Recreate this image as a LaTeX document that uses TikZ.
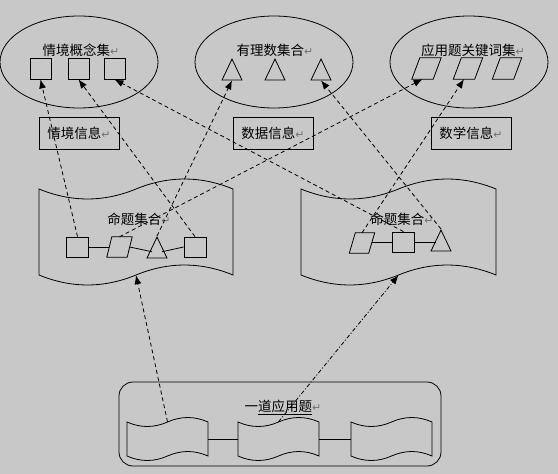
\documentclass[tikz,border=0pt]{standalone}
\usepackage{fontspec}
\newfontfamily\cjk{Noto Sans CJK SC}
\newfontfamily\dejavu{DejaVu Sans}
\usetikzlibrary{shapes.geometric,arrows.meta}
\definecolor{bggray}{RGB}{200,200,200}
\definecolor{retgray}{RGB}{115,115,115}
\newcommand\pmark{{\color{retgray}\dejavu\fontsize{11}{11}\selectfont ↵}}
\newcommand\tapepath[5]{%
  \draw[outl] (#1,#2) .. controls ({#1+#3/6},{#2+1.33*#5}) and ({#1+#3/3},{#2+1.33*#5}) .. ({#1+#3/2},#2)
    .. controls ({#1+2*#3/3},{#2-1.33*#5}) and ({#1+5*#3/6},{#2-1.33*#5}) .. ({#1+#3},#2)
    -- ({#1+#3},{#2+#4})
    .. controls ({#1+5*#3/6},{#2+#4-1.33*#5}) and ({#1+2*#3/3},{#2+#4-1.33*#5}) .. ({#1+#3/2},{#2+#4})
    .. controls ({#1+#3/3},{#2+#4+1.33*#5}) and ({#1+#3/6},{#2+#4+1.33*#5}) .. (#1,{#2+#4}) -- cycle;}
\newcommand\paraoutline[2]{%
  \draw[outl] (#1.south west) -- ([xshift=#2]#1.north west) -- (#1.north east) -- ([xshift=-#2]#1.south east) -- cycle;}
\begin{document}
\begin{tikzpicture}[x=1pt,y=-1pt,
  outl/.style={draw=black,line width=0.8pt},
  txt/.style={font=\cjk\fontsize{13.5}{14}\selectfont,inner sep=0pt},
  oval/.style={outl,ellipse,minimum width=158pt,minimum height=92pt},
  sq/.style={outl,minimum width=21pt,minimum height=21pt,inner sep=0pt},
  sqs/.style={outl,minimum width=22pt,minimum height=20pt,inner sep=0pt},
  tri/.style={outl,isosceles triangle,shape border rotate=90,isosceles triangle stretches,
     minimum width=20pt,minimum height=21pt,inner sep=0pt,anchor=apex},
  pbox/.style={minimum width=29pt,minimum height=21pt,inner sep=0pt},
  pboxs/.style={minimum width=25pt,minimum height=20pt,inner sep=0pt},
  infobox/.style={outl,minimum width=80pt,minimum height=32pt,inner sep=0pt,font=\cjk\fontsize{13.5}{14}\selectfont},
  tapebox/.style={inner sep=0pt},
  dsh/.style={draw=black,line width=0.8pt,dash pattern=on 4pt off 3pt,-{Latex[length=9pt,width=7pt]}},
  dshdot/.style={draw=black,line width=0.8pt,dash pattern=on 4pt off 2pt on 1pt off 2pt,-{Latex[length=9pt,width=7pt]}},
  conn/.style={draw=black,line width=0.8pt}
]
\fill[bggray] (0,0) rectangle (558,474);
\useasboundingbox (0,0) rectangle (558,474);

% ellipses
\node[oval] (E1) at (79,62) {};
\node[oval] (E2) at (274,62) {};
\node[oval] (E3) at (469,62) {};
\node[txt] (L1) at (81,50) {情境概念集\pmark};
\node[txt] (L2) at (275,50) {有理数集合\pmark};
\node[txt] (L3) at (473,50) {应用题关键词集\pmark};

\node[sq] (A1) at (40.5,68.5) {};
\node[sq] (A2) at (78.5,68.5) {};
\node[sq] (A3) at (114.5,68.5) {};
\node[tri] (B1) at (232,58) {};
\node[tri] (B2) at (275,58) {};
\node[tri] (B3) at (321,58) {};
\node[pbox] (C1) at (426.5,68.5) {};
\node[pbox] (C2) at (468,68.5) {};
\node[pbox] (C3) at (507,68.5) {};
\paraoutline{C1}{8pt}
\paraoutline{C2}{8pt}
\paraoutline{C3}{8pt}

% info boxes
\node[infobox] (I1) at (79,133) {情境信息\pmark};
\node[infobox] (I2) at (273,133) {数据信息\pmark};
\node[infobox] (I3) at (471,133) {数学信息\pmark};

% proposition scrolls
\node[tapebox,minimum width=194pt,minimum height=86pt] (S1) at (136,232) {};
\tapepath{39}{189}{194}{86}{10}
\node[tapebox,minimum width=195pt,minimum height=86pt] (S2) at (398.5,232) {};
\tapepath{301}{189}{195}{86}{10}
\node[txt] (M1) at (139,219) {命题集合\pmark};
\node[txt] (M2) at (402,219) {命题集合\pmark};

% left chain
\node[sqs] (D1) at (77.5,247) {};
\node[pboxs] (D2) at (119.5,247) {};
\paraoutline{D2}{5pt}
\node[tri] (D3) at (157,236) {};
\node[sqs] (D4) at (195,247) {};
\draw[conn] (D1.east) -- ([xshift=2.5pt]D2.west);
\draw[conn] ([xshift=-2.5pt]D2.east) -- (D3.center -| 152,0);
\draw[conn] (D3.center -| 162,0) -- (D4.west);

% right chain
\node[pboxs] (F1) at (362,243) {};
\paraoutline{F1}{6pt}
\node[sqs] (F2) at (403.5,242) {};
\node[tri] (F3) at (441,229) {};
\draw[conn] ([xshift=-3pt]F1.east |- F2.west) -- (F2.west);
\draw[conn] (F2.east) -- (436,242);

% bottom box
\node[outl,rounded corners=14pt,minimum width=322pt,minimum height=84pt] (R) at (280,424) {};
\node[txt] (RL) at (283,407) {一\underline{道应用题}\pmark};
\node[tapebox,minimum width=81pt,minimum height=34pt] (T1) at (167.5,439) {};
\tapepath{127}{422}{81}{34}{4.5}
\node[tapebox,minimum width=81pt,minimum height=34pt] (T2) at (278.5,439) {};
\tapepath{238}{422}{81}{34}{4.5}
\node[tapebox,minimum width=81pt,minimum height=34pt] (T3) at (391.5,439) {};
\tapepath{351}{422}{81}{34}{4.5}
\draw[conn] (T1.east) -- (T2.west);
\draw[conn] (T2.east) -- (T3.west);

% arrows
\draw[dsh] (D1.north) -- (A1.south);
\draw[dsh] (D4.north) -- (A2.south);
\draw[dsh] (F2.north) -- (A3.south);
\draw[dsh] (D3.apex) -- (B1.lower side);
\draw[dsh] (D2.north) -- ([xshift=-4pt]C1.south);
\draw[dsh] (F3.apex) -- (B3.lower side);
\draw[dsh] (F1.north) -- ([xshift=-4pt]C2.south);
\draw[dsh] (T1.north) -- (S1.south);
\draw[dshdot] (T2.north) -- (S2.south);
\end{tikzpicture}
\end{document}
